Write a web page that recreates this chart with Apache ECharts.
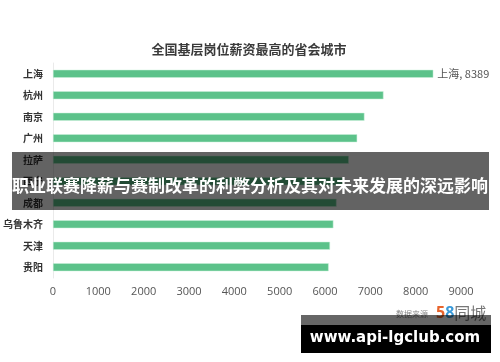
<!DOCTYPE html>
<html>
<head>
<meta charset="utf-8">
<script src="https://cdn.jsdelivr.net/npm/echarts@6/dist/echarts.min.js"></script>
<style>html,body{margin:0;padding:0;background:#fff;}#c{width:500px;height:362px;}</style>
</head>
<body>
<div id="c"></div>
<script>
const titleText = '全国基层岗位薪资最高的省会城市';
const cities = ['上海', '杭州', '南京', '广州', '拉萨', '西宁', '成都', '乌鲁木齐', '天津', '贵阳'];
const salaries = [8389, 7290, 6870, 6710, 6525, 6400, 6255, 6185, 6110, 6080];
const xTicks = [0, 1000, 2000, 3000, 4000, 5000, 6000, 7000, 8000, 9000];
const bannerText = '职业联赛降薪与赛制改革的利弊分析及其对未来发展的深远影响';
const siteText = 'www.api-lgclub.com';
const sourceLabel = '数据来源';

const CJK = '"Noto Sans CJK SC", "Noto Sans", sans-serif';
const chart = echarts.init(document.getElementById('c'), null, {renderer: 'canvas'});
chart.setOption({
  animation: false,
  backgroundColor: '#fff',
  title: {
    text: titleText, left: 244, textAlign: 'center', top: 38,
    textStyle: {fontFamily: CJK, fontSize: 13, fontWeight: 'bold', color: '#3a3a3a'}
  },
  grid: {left: 51, right: 39, top: 63, bottom: 84, containLabel: false},
  xAxis: {
    type: 'value', min: xTicks[0], max: xTicks[xTicks.length - 1], interval: 1000,
    axisLine: {show: false}, axisTick: {show: false}, splitLine: {show: false},
    axisLabel: {color: '#555', fontSize: 11, fontFamily: '"Open Sans", sans-serif', margin: 8,
      formatter: v => String(v)}
  },
  yAxis: {
    type: 'category', data: cities, inverse: true,
    axisLine: {show: true, lineStyle: {color: '#eaeaea'}}, axisTick: {show: false},
    axisLabel: {color: '#333', fontSize: 10, fontWeight: 'bold', fontFamily: CJK, margin: 10}
  },
  series: [{
    type: 'bar', data: salaries, barWidth: 8,
    itemStyle: {color: '#5cc28a', borderColor: '#c9f0da', borderWidth: 0.5},
    label: {
      show: true, position: 'right', distance: 4, color: '#555', fontSize: 11,
      fontFamily: CJK,
      formatter: p => p.dataIndex === 0 ? p.name + ', ' + p.value : ''
    }
  }],
  graphic: [
    {type: 'rect', z: 100, shape: {x: 12, y: 152, width: 477, height: 58}, style: {fill: 'rgba(0,0,0,0.61)'}},
    {type: 'text', z: 101, style: {text: bannerText, x: 250, y: 186, align: 'center', verticalAlign: 'middle',
      fill: '#fff', font: 'bold 17px "Noto Sans CJK SC", sans-serif'}},
    {type: 'text', z: 90, style: {text: sourceLabel, x: 428, y: 314, align: 'right', verticalAlign: 'middle',
      fill: '#888', font: '8px "Noto Sans CJK SC", sans-serif'}},
    {type: 'text', z: 90, style: {text: '{a|5}{b|8}{c|同城}', x: 436, y: 313, align: 'left', verticalAlign: 'middle',
      rich: {
        a: {fill: '#e8642c', font: 'bold 16px "Noto Sans", sans-serif'},
        b: {fill: '#3a9ad9', font: 'bold 16px "Noto Sans", sans-serif'},
        c: {fill: '#777', font: '16px "Noto Sans CJK SC", sans-serif'}
      }}},
    {type: 'rect', z: 100, shape: {x: 301, y: 315, width: 190, height: 10}, style: {fill: 'rgba(0,0,0,0.6)'}},
    {type: 'rect', z: 100, shape: {x: 301, y: 325, width: 190, height: 28}, style: {fill: '#000'}},
    {type: 'text', z: 101, style: {text: siteText, x: 395, y: 338, align: 'center', verticalAlign: 'middle',
      fill: '#fff', font: 'bold 15px "DejaVu Sans", sans-serif'}}
  ]
});
</script>
</body>
</html>
